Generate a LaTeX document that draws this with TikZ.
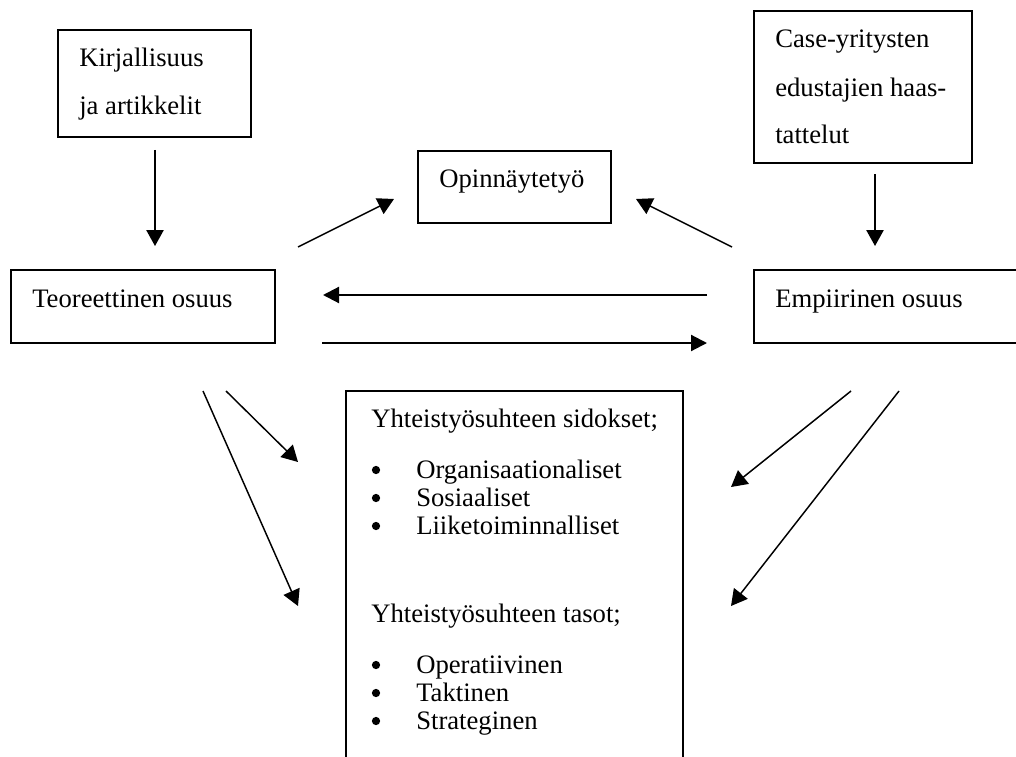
\documentclass[tikz,border=0pt]{standalone}
\usepackage{fontspec}
\setmainfont{Liberation Serif}
\usetikzlibrary{arrows.meta,fit}
\begin{document}
\begin{tikzpicture}[x=0.75pt,y=-0.75pt,
  box/.style={draw, line width=1.4pt, inner sep=0pt},
  txt/.style={anchor=base west, inner sep=0pt, font=\fontsize{20}{24}\selectfont},
  dot/.style={circle, fill, draw=none, inner sep=0pt, minimum size=6.2pt},
  arr/.style={line width=1.1pt, -{Triangle[width=13pt,length=12pt]}},
  harr/.style={line width=1.6pt, -{Triangle[width=12pt,length=12pt]}}]
\useasboundingbox (0,0) rectangle (1016,756);
\clip (0,0) rectangle (1016,756);
\fill[white] (0,0) rectangle (1016,756);

% boxes
\node[box, fit={(58,30) (251,137)}] (kir) {};
\node[box, fit={(754,11) (972,163)}] (cas) {};
\node[box, fit={(418,151) (611,223)}] (opi) {};
\node[box, fit={(11,270) (275,343)}] (teo) {};
\node[box, fit={(754,270) (1040,343)}] (emp) {};
\node[box, fit={(346,391) (683,800)}] (bot) {};

% texts
\node[txt] (k1) at (79,67) {Kirjallisuus};
\node[txt] (k2) at (79,115) {ja artikkelit};
\node[txt] (c1) at (775,48) {Case-yritysten};
\node[txt] (c2) at (775,97) {edustajien haas-};
\node[txt] (c3) at (775,143) {tattelut};
\node[txt] (o1) at (439,187) {Opinnäytetyö};
\node[txt] (te1) at (32,307) {Teoreettinen osuus};
\node[txt] (e1) at (775,307) {Empiirinen osuus};

\node[txt] (y1) at (371,427) {Yhteistyösuhteen sidokset;};
\node[dot] (d1) at (376,470) {};
\node[txt] (i1) at (416,478) {Organisaationaliset};
\node[dot] (d2) at (376,498) {};
\node[txt] (i2) at (416,506) {Sosiaaliset};
\node[dot] (d3) at (376,526) {};
\node[txt] (i3) at (416,534) {Liiketoiminnalliset};
\node[txt] (y2) at (371,622) {Yhteistyösuhteen tasot;};
\node[dot] (d4) at (376,665) {};
\node[txt] (i4) at (416,673) {Operatiivinen};
\node[dot] (d5) at (376,693) {};
\node[txt] (i5) at (416,701) {Taktinen};
\node[dot] (d6) at (376,721) {};
\node[txt] (i6) at (416,729) {Strateginen};

% connector end points
\coordinate (a1s) at (155,150);  \coordinate (a1e) at (155,246);
\coordinate (a2s) at (298,247);  \coordinate (a2e) at (394,199);
\coordinate (a3s) at (732,247);  \coordinate (a3e) at (636,199);
\coordinate (a4s) at (875,174);  \coordinate (a4e) at (875,246);
\coordinate (a5s) at (707,295);  \coordinate (a5e) at (323,295);
\coordinate (a6s) at (322,343);  \coordinate (a6e) at (707,343);
\coordinate (a7s) at (226,391);  \coordinate (a7e) at (298,462);
\coordinate (a8s) at (203,391);  \coordinate (a8e) at (298,606);
\coordinate (a9s) at (851,391);  \coordinate (a9e) at (731,487);
\coordinate (a10s) at (899,391); \coordinate (a10e) at (731,606);

\draw[arr] (a1s) -- (a1e);
\draw[arr] (a2s) -- (a2e);
\draw[arr] (a3s) -- (a3e);
\draw[arr] (a4s) -- (a4e);
\draw[harr] (a5s) -- (a5e);
\draw[harr] (a6s) -- (a6e);
\draw[arr] (a7s) -- (a7e);
\draw[arr] (a8s) -- (a8e);
\draw[arr] (a9s) -- (a9e);
\draw[arr] (a10s) -- (a10e);
\end{tikzpicture}
\end{document}
